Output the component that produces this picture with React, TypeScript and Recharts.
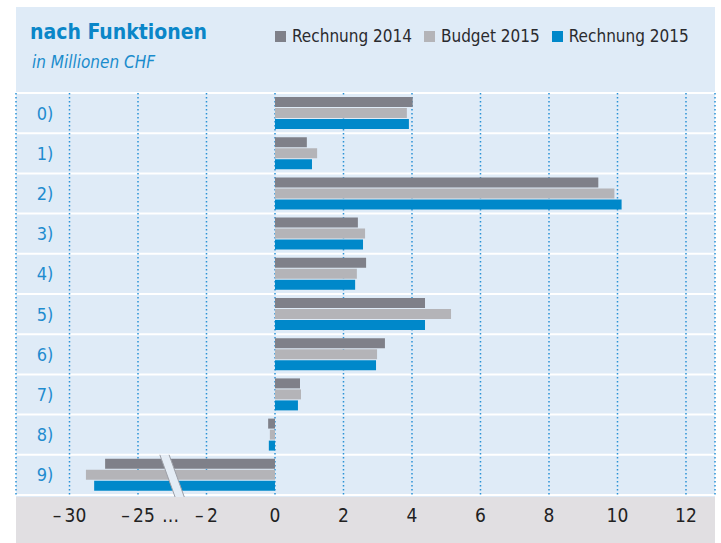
import React from 'react';
import {
  BarChart,
  Bar,
  XAxis,
  YAxis,
  CartesianGrid,
  Legend,
  ReferenceArea,
} from 'recharts';

const FONT = '"DejaVu Sans", Arial, sans-serif';
const STRETCH = 'condensed';

const categories = ['0)', '1)', '2)', '3)', '4)', '5)', '6)', '7)', '8)', '9)'];
const rechnung2014 = [4.02, 0.93, 9.44, 2.42, 2.66, 4.38, 3.21, 0.73, -0.2, -27.4];
const budget2015 = [3.85, 1.23, 9.91, 2.63, 2.39, 5.14, 2.98, 0.76, -0.15, -28.8];
const rechnung2015 = [3.91, 1.08, 10.12, 2.57, 2.34, 4.38, 2.95, 0.67, -0.18, -28.2];

const tickValues = [-30, -25, -2, 0, 2, 4, 6, 8, 10, 12];
const seriesNames = ['Rechnung 2014', 'Budget 2015', 'Rechnung 2015'];
const seriesColors = ['#7f8089', '#b4b4b8', '#0088ca'];

// broken axis: 0..-2 normal, -2..-25 squeezed, -25..-30 one step of 5
const toDisplay = (v: number) => {
  if (v >= -2) return v;
  if (v >= -25) return -2 + ((v + 2) * 2) / 23;
  return -4 + ((v + 25) * 2) / 5;
};

const data = categories.map((name, i) => ({
  name,
  r14: toDisplay(rechnung2014[i]),
  b15: toDisplay(budget2015[i]),
  r15: toDisplay(rechnung2015[i]),
}));

const ticks = tickValues.map(toDisplay);
const fmt = (v: number) => (v < 0 ? `\u2013\u2009${Math.abs(v)}` : `${v}`);
const svgStyle = { fontStretch: STRETCH } as any;

const XTick = (props: any) => {
  const { x, y, payload } = props;
  const idx = ticks.findIndex((t) => Math.abs(t - payload.value) < 1e-6);
  const raw = tickValues[idx];
  return (
    <g>
      <text x={x} y={y + 6} dy="0.71em" textAnchor="middle" fontSize={19} fill="#222" fontFamily={FONT} style={svgStyle}>
        {fmt(raw)}
      </text>
      {raw === -25 && (
        <text x={x + 24} y={y + 6} dy="0.71em" textAnchor="start" fontSize={19} fill="#222" fontFamily={FONT} style={svgStyle}>
          …
        </text>
      )}
    </g>
  );
};

const YTick = (props: any) => {
  const { y, payload } = props;
  return (
    <text x={45} y={y} dy="0.36em" textAnchor="middle" fontSize={18} fill="#1f8ccf" fontFamily={FONT} style={svgStyle}>
      {payload.value}
    </text>
  );
};

const BreakMark = (props: any) => {
  const { x, y, width, height } = props;
  const rowH = height / categories.length;
  const top = y + height - rowH;
  const bottom = y + height + 2;
  const cx = x + width / 2;
  const s = (bottom - top) * 0.36;
  const pts = [
    [cx - width / 2 - s / 2, top],
    [cx + width / 2 - s / 2, top],
    [cx + width / 2 + s / 2, bottom],
    [cx - width / 2 + s / 2, bottom],
  ];
  return (
    <g>
      <polygon points={pts.map((p) => p.join(',')).join(' ')} fill="#e4ecf5" />
      <line x1={pts[0][0]} y1={top} x2={pts[3][0]} y2={bottom} stroke="#9da0a8" strokeWidth={1} />
      <line x1={pts[1][0]} y1={top} x2={pts[2][0]} y2={bottom} stroke="#9da0a8" strokeWidth={1} />
    </g>
  );
};

const LegendContent = () => (
  <div style={{ display: 'flex', alignItems: 'center', whiteSpace: 'nowrap', fontFamily: FONT, fontStretch: STRETCH, fontSize: 17, color: '#2a2a2e' }}>
    {seriesNames.map((n, i) => (
      <div key={n} style={{ display: 'flex', alignItems: 'center', marginRight: 12 }}>
        <span style={{ width: 11, height: 11, background: seriesColors[i], marginRight: 6, display: 'inline-block' }} />
        <span>{n}</span>
      </div>
    ))}
  </div>
);

export default function App() {
  return (
    <div style={{ position: 'absolute', left: 0, top: 0, width: 721, height: 543, background: '#fff', overflow: 'hidden' }}>
      <div style={{ position: 'absolute', left: 16, top: 7, width: 699, height: 536, background: '#dfebf7' }} />
      <div style={{ position: 'absolute', left: 16, top: 497, width: 699, height: 46, background: '#e1dfe2' }} />
      <div style={{ position: 'absolute', left: 30, top: 20, fontFamily: FONT, fontStretch: STRETCH, fontWeight: 700, fontSize: 21, color: '#0a86c8', whiteSpace: 'nowrap' }}>
        nach Funktionen
      </div>
      <div style={{ position: 'absolute', left: 32, top: 52, fontFamily: FONT, fontStretch: STRETCH, fontStyle: 'italic', fontSize: 17, color: '#1a8bcc', whiteSpace: 'nowrap' }}>
        in Millionen CHF
      </div>
      <div style={{ position: 'absolute', left: 0, top: 0 }}>
        <BarChart
          width={721}
          height={543}
          data={data}
          layout="vertical"
          margin={{ top: 93, right: 6, bottom: 0, left: 15 }}
          barSize={10}
          barGap={1}
        >
          <CartesianGrid
            vertical={false}
            stroke="#ffffff"
            strokeWidth={2}
            horizontalCoordinatesGenerator={({ offset }: any) =>
              Array.from({ length: categories.length + 1 }, (_, i) => offset.top + (i * offset.height) / categories.length)
            }
          />
          <CartesianGrid horizontal={false} stroke="#2a92d6" strokeWidth={1.5} strokeDasharray="1.5 2.5" />
          <XAxis
            type="number"
            domain={[-7.562, 12.847]}
            allowDataOverflow
            ticks={ticks}
            interval={0}
            height={48}
            axisLine={false}
            tickLine={false}
            tick={<XTick />}
          />
          <YAxis type="category" dataKey="name" width={1} axisLine={false} tickLine={false} tick={<YTick />} interval={0} />
          <Legend
            layout="horizontal"
            align="center"
            verticalAlign="middle"
            wrapperStyle={{ top: 26, left: 275, width: 440 }}
            content={<LegendContent />}
          />
          <Bar dataKey="r14" name={seriesNames[0]} fill={seriesColors[0]} isAnimationActive={false} />
          <Bar dataKey="b15" name={seriesNames[1]} fill={seriesColors[1]} isAnimationActive={false} />
          <Bar dataKey="r15" name={seriesNames[2]} fill={seriesColors[2]} isAnimationActive={false} />
          <ReferenceArea x1={-3.14} x2={-2.87} shape={<BreakMark />} zIndex={1000} ifOverflow="visible" />
        </BarChart>
      </div>
    </div>
  );
}
